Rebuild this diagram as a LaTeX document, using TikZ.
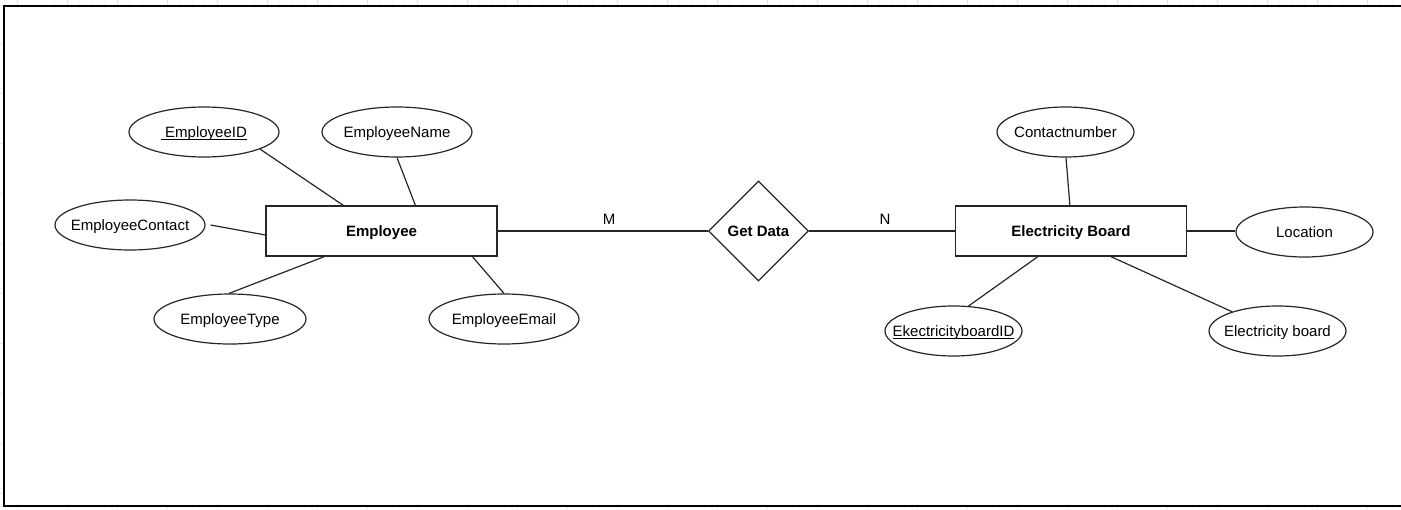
\documentclass[tikz,border=0pt]{standalone}
\usepackage{fontspec}
\setmainfont{Liberation Sans}
\usetikzlibrary{shapes.geometric}
\newcommand{\fixt}[1]{\makebox[0pt]{#1}}
\newcommand{\ul}[1]{\underline{\smash{#1}}}
\begin{document}
\begin{tikzpicture}[x=1pt,y=-1pt,
  font=\fontsize{15}{18}\selectfont,
  conn/.style={draw=black!85, line width=1.2pt},
  attr/.style={ellipse, draw=black!85, line width=1.2pt, fill=white, inner sep=0pt, minimum width=150pt, minimum height=50pt, text height=10.8pt, text depth=0pt},
  sattr/.style={attr, minimum width=137pt},
  entity/.style={rectangle, draw=black!85, line width=1.2pt, fill=white, inner sep=0pt, minimum width=231pt, minimum height=50pt, text height=10.8pt, text depth=0pt, font=\fontsize{15}{18}\selectfont\bfseries},
  rel/.style={diamond, draw=black!85, line width=1.2pt, fill=white, inner sep=0pt, minimum width=100pt, minimum height=100pt, text height=10.8pt, text depth=0pt, font=\fontsize{15}{18}\selectfont\bfseries},
  gridminor/.style={draw=gray!8, line width=0.6pt},
  gridmajor/.style={draw=gray!20, line width=0.6pt},
  frame/.style={draw=black, line width=1.6pt},
  card/.style={inner sep=0pt, text height=10.8pt, text depth=0pt, font=\fontsize{15}{18}\selectfont}
]
\useasboundingbox (0,0) rectangle (1401,509);
% background grid (visible only in the margins)
\foreach \x in {4.5,17,...,1410} \draw[gridminor] (\x,0) -- (\x,509);
\foreach \y in {5.5,18,...,515} \draw[gridminor] (0,\y) -- (1401,\y);
\foreach \x in {17,67,...,1420} \draw[gridmajor] (\x,0) -- (\x,509);
\foreach \y in {43,93,...,520} \draw[gridmajor] (0,\y) -- (1401,\y);
\fill[white] (4,6) rectangle (1410,506);
\draw[frame] (1410,6) -- (4,6) -- (4,506) -- (1410,506);

% entities and relationship
\node[entity] (emp) at (381.5,231) {Employee};
\node[rel] (gd) at (758.5,231) {Get Data};
\node[entity] (eb) at (1071,231) {Electricity Board};

% employee attributes
\node[attr] (eid) at (204,132) {\fixt{\ul{\ EmployeeID}}};
\node[attr] (ename) at (397,132) {\fixt{EmployeeName}};
\node[attr] (econ) at (130,225) {\fixt{EmployeeContact}};
\node[attr, minimum width=152pt] (etype) at (230,319) {\fixt{EmployeeType}};
\node[attr] (eemail) at (504,319) {\fixt{EmployeeEmail}};

% electricity board attributes
\node[sattr] (cnum) at (1065.5,132) {\fixt{Contactnumber}};
\node[sattr] (loc) at (1304.5,232) {\fixt{Location}};
\node[sattr] (ebid) at (953.5,331) {\fixt{\ul{EkectricityboardID}}};
\node[sattr] (ebn) at (1277.5,331) {\fixt{Electricity board}};

% connectors
\draw[conn] (eid.-17.5) -- ([xshift=78pt]emp.north west);
\draw[conn] (ename.south) -- ([xshift=150pt]emp.north west);
\draw[conn] ([xshift=5pt]econ.east) -- ([yshift=-4pt]emp.west);
\draw[conn] ([xshift=-1pt]etype.north) -- ([xshift=59pt]emp.south west);
\draw[conn] (eemail.north) -- ([xshift=207pt]emp.south west);

\draw[conn] (emp.east) -- node[card, pos=0.53, above=6pt] {M} (gd.west);
\draw[conn] (gd.east) -- node[card, pos=0.52, above=6pt] {N} (eb.west);

\draw[conn] ([xshift=0.5pt]cnum.south) -- ([xshift=115pt]eb.north west);
\draw[conn] (eb.east) -- (eb.east -| loc.west);
\draw[conn] (ebid.59) -- ([xshift=83pt]eb.south west);
\draw[conn] (ebn.157) -- ([xshift=156pt]eb.south west);
\end{tikzpicture}
\end{document}
